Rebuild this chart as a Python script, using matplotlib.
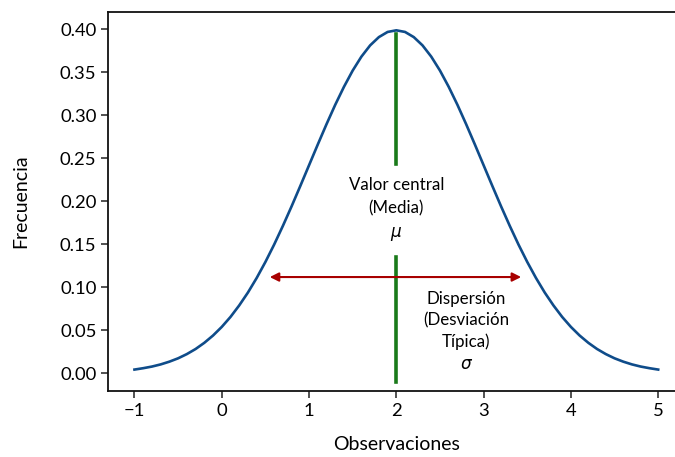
import matplotlib
matplotlib.use("Agg")
import matplotlib.pyplot as plt

# curve (bell shape, centre 2), one value every 0.1
obs = [round(-1 + 0.1 * i, 1) for i in range(61)]
freq_left = [0.0044, 0.0060, 0.0079, 0.0104, 0.0136, 0.0175, 0.0224, 0.0283, 0.0355, 0.0440,
             0.0540, 0.0656, 0.0790, 0.0940, 0.1109, 0.1295, 0.1497, 0.1714, 0.1942, 0.2179,
             0.2420, 0.2661, 0.2897, 0.3123, 0.3332, 0.3521, 0.3683, 0.3814, 0.3910, 0.3970]
freq_peak = [0.3989]
freq = freq_left + freq_peak + freq_left[::-1]

mean_x = 2
mean_low = [-0.01, 0.135]
mean_high = [0.243, 0.395]
spread_y = 0.112
spread_x = [0.55, 3.43]

xticks = [-1, 0, 1, 2, 3, 4, 5]
yticks = [0.00, 0.05, 0.10, 0.15, 0.20, 0.25, 0.30, 0.35, 0.40]

plt.rcParams['font.family'] = ['Lato', 'DejaVu Sans']

fig = plt.figure(figsize=(6.75, 4.57), dpi=100)
ax = fig.add_axes([0.1604, 0.1435, 0.8535, 0.8308])

ax.plot(obs, freq, color='#0f4c8a', lw=1.9, solid_joinstyle='round')
ax.plot([mean_x, mean_x], mean_low, color='#1a7a1a', lw=2.6)
ax.plot([mean_x, mean_x], mean_high, color='#1a7a1a', lw=2.6)
ax.annotate('', xy=(spread_x[0], spread_y), xytext=(spread_x[1], spread_y),
            arrowprops=dict(arrowstyle='<|-|>', color='#a80000', lw=1.5,
                            mutation_scale=13, shrinkA=0, shrinkB=0))

ax.text(2, 0.19, 'Valor central\n(Media)\n$\\mu$', ha='center', va='center',
        fontsize=12.2, linespacing=1.6)
ax.text(2.8, 0.049, 'Dispersión\n(Desviación\nTípica)\n$\\sigma$', ha='center', va='center',
        fontsize=12.2, linespacing=1.4)

ax.set_xlim(-1.3, 5.3)
ax.set_ylim(-0.021, 0.4205)
ax.set_xticks(xticks)
ax.set_yticks(yticks)
ax.set_xticklabels(['−1' if v < 0 else str(v) for v in xticks])
ax.set_yticklabels(['%.2f' % v for v in yticks])
ax.tick_params(labelsize=13.3, length=5, width=1.1, color='#222222')
for s in ax.spines.values():
    s.set_linewidth(1.3)
    s.set_color('#111111')

ax.set_xlabel('Observaciones', fontsize=14, labelpad=12)
ax.set_ylabel('Frecuencia', fontsize=14, labelpad=22)

fig.savefig('out.png', dpi=100)
